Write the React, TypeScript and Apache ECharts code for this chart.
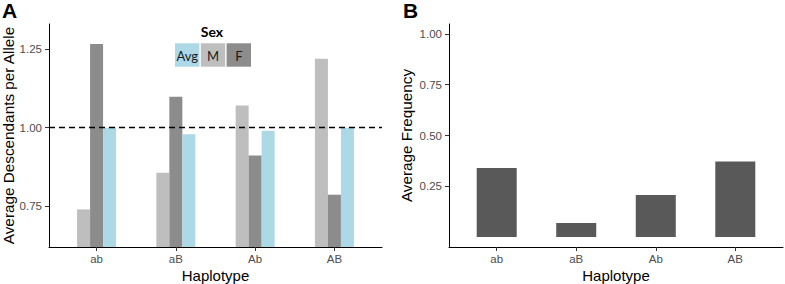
import React, { useEffect, useRef } from 'react';
import * as echarts from 'echarts';

const haplotypes = ['ab', 'aB', 'Ab', 'AB'];
const maleValues = [0.739, 0.856, 1.071, 1.22];
const femaleValues = [1.267, 1.099, 0.911, 0.786];
const avgValues = [1.0, 0.979, 0.99, 1.0];
const frequencyValues = [0.34, 0.069, 0.207, 0.372];
const descendantTicks = [0.75, 1.0, 1.25];
const frequencyTicks = [0.25, 0.5, 0.75, 1.0];
const sexLegend = ['Avg', 'M', 'F'];
const referenceLine = 1.0;

const sexColors: Record<string, string> = {
  Avg: '#ADD8E6',
  M: '#BEBEBE',
  F: '#8C8C8C',
};

const tickFont = 'Liberation Sans, Arial, sans-serif';
const catPositions = haplotypes.map((_, i) => i);

function xAxis(gridIndex: number) {
  return {
    type: 'value',
    gridIndex,
    min: -0.6,
    max: 3.6,
    splitLine: { show: false },
    axisLine: { show: true, onZero: false, lineStyle: { color: '#000', width: 1 } },
    axisTick: { show: true, customValues: catPositions, length: 4, lineStyle: { color: '#333', width: 1 } },
    axisLabel: {
      customValues: catPositions,
      formatter: (v: number) => haplotypes[Math.round(v)] ?? '',
      color: '#4D4D4D',
      fontSize: 11.5,
      fontFamily: tickFont,
      margin: 6,
    },
    name: 'Haplotype',
    nameLocation: 'middle',
    nameGap: 21,
    nameMoveOverlap: false,
    nameTextStyle: { color: '#000', fontSize: 15, fontFamily: tickFont },
  };
}

function yAxis(gridIndex: number, min: number, max: number, ticks: number[], name: string, nameGap: number) {
  return {
    type: 'value',
    gridIndex,
    min,
    max,
    splitLine: { show: false },
    axisLine: { show: true, onZero: false, lineStyle: { color: '#000', width: 1 } },
    axisTick: { show: true, customValues: ticks, length: 4, lineStyle: { color: '#333', width: 1 } },
    axisLabel: {
      customValues: ticks,
      formatter: (v: number) => v.toFixed(2),
      color: '#4D4D4D',
      fontSize: 11.5,
      fontFamily: tickFont,
      margin: 7,
    },
    name,
    nameLocation: 'middle',
    nameGap,
    nameMoveOverlap: false,
    nameTextStyle: { color: '#000', fontSize: 15.3, fontFamily: tickFont },
  };
}

export default function App() {
  const ref = useRef<HTMLDivElement>(null);
  useEffect(() => {
    if (!ref.current) return;
    const chart = echarts.init(ref.current, undefined, { renderer: 'svg' });
    const legendGraphics: any[] = [
      {
        type: 'text',
        x: 212,
        y: 31,
        style: {
          text: 'Sex',
          fontSize: 14,
          fontWeight: 'bold',
          fontFamily: 'Lato, Open Sans, sans-serif',
          fill: '#000',
          align: 'center',
          verticalAlign: 'middle',
        },
      },
    ];
    sexLegend.forEach((s, i) => {
      legendGraphics.push({
        type: 'rect',
        shape: { x: 175 + i * 25.8, y: 43.3, width: 24.4, height: 23.4 },
        style: { fill: sexColors[s] },
      });
      legendGraphics.push({
        type: 'text',
        x: 175 + i * 25.8 + 12.2,
        y: 55.5,
        style: {
          text: s,
          fontSize: 13,
          fontFamily: 'Lato, Open Sans, sans-serif',
          fill: '#1A1A1A',
          align: 'center',
          verticalAlign: 'middle',
        },
      });
    });

    const option: any = {
      animation: false,
      backgroundColor: '#fff',
      grid: [
        { left: 49, top: 24, width: 333, height: 223, outerBoundsMode: 'none', containLabel: false },
        { left: 449, top: 24, width: 334, height: 223, outerBoundsMode: 'none', containLabel: false },
      ],
      xAxis: [xAxis(0), xAxis(1)],
      yAxis: [
        yAxis(0, 0.619, 1.331, descendantTicks, 'Average Descendants per Allele', 33),
        yAxis(1, -0.049, 1.049, frequencyTicks, 'Average Frequency', 35),
      ],
      graphic: [
        {
          type: 'text',
          x: 2,
          y: 0,
          style: { text: 'A', fontSize: 21, fontWeight: 'bold', fontFamily: tickFont, fill: '#000' },
        },
        {
          type: 'text',
          x: 403,
          y: 0,
          style: { text: 'B', fontSize: 21, fontWeight: 'bold', fontFamily: tickFont, fill: '#000' },
        },
        ...legendGraphics,
      ],
      series: [
        {
          name: 'M',
          type: 'bar',
          xAxisIndex: 0,
          yAxisIndex: 0,
          barWidth: 13,
          barGap: '0%',
          itemStyle: { color: sexColors.M },
          data: maleValues.map((v, i) => [i, v]),
        },
        {
          name: 'F',
          type: 'bar',
          xAxisIndex: 0,
          yAxisIndex: 0,
          barWidth: 13,
          barGap: '0%',
          itemStyle: { color: sexColors.F },
          data: femaleValues.map((v, i) => [i, v]),
        },
        {
          name: 'Avg',
          type: 'bar',
          xAxisIndex: 0,
          yAxisIndex: 0,
          barWidth: 13,
          barGap: '0%',
          itemStyle: { color: sexColors.Avg },
          data: avgValues.map((v, i) => [i, v]),
          markLine: {
            silent: true,
            symbol: ['none', 'none'],
            label: { show: false },
            lineStyle: { type: [6, 4], color: '#000', width: 1.3 },
            data: [{ yAxis: referenceLine }],
          },
        },
        {
          name: 'Frequency',
          type: 'bar',
          xAxisIndex: 1,
          yAxisIndex: 1,
          barWidth: 40,
          itemStyle: { color: '#595959' },
          data: frequencyValues.map((v, i) => [i, v]),
        },
      ],
    };
    chart.setOption(option);
    return () => chart.dispose();
  }, []);
  return (
    <div
      ref={ref}
      style={{ position: 'fixed', left: 0, top: 0, width: 785, height: 284 }}
    />
  );
}
